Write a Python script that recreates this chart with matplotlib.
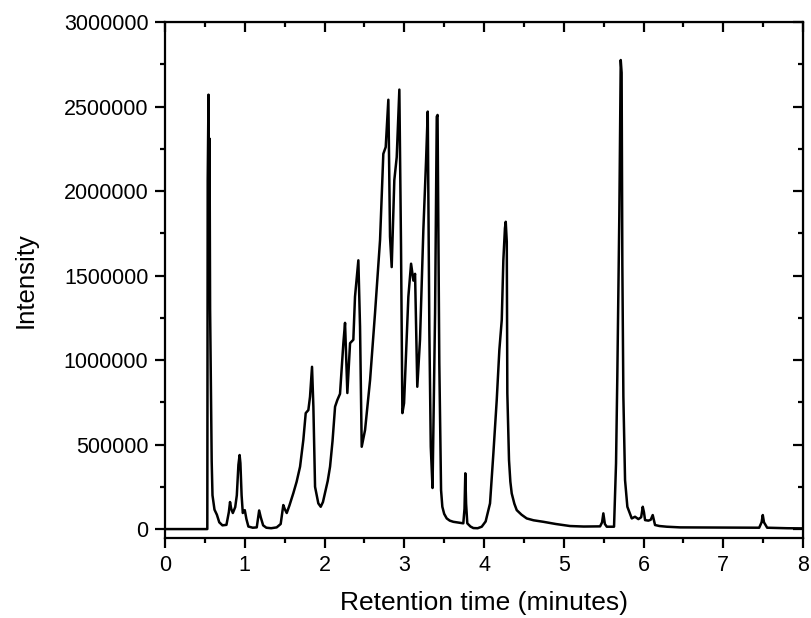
import matplotlib
matplotlib.use("Agg")
import matplotlib.pyplot as plt
from matplotlib.ticker import MultipleLocator
import numpy as np

plt.rcParams['font.family'] = ['Liberation Sans', 'DejaVu Sans']

# retention time (min) and intensity (thousands of counts)
rt = [0.0, 0.53, 0.535, 0.545, 0.552, 0.558, 0.565, 0.575, 0.585, 0.595,
      0.62, 0.65, 0.68, 0.72, 0.77, 0.80, 0.815, 0.83, 0.85, 0.88,
      0.90, 0.92, 0.935, 0.945, 0.96, 0.975, 1.0, 1.02, 1.045, 1.1,
      1.15, 1.18, 1.20, 1.23, 1.27, 1.33, 1.40, 1.45, 1.483, 1.50,
      1.526, 1.56, 1.609, 1.65, 1.693, 1.734, 1.764, 1.797, 1.818, 1.843,
      1.86, 1.881, 1.922, 1.952, 1.98, 2.006, 2.04, 2.069, 2.10, 2.132,
      2.16, 2.194, 2.236, 2.257, 2.286, 2.32, 2.361, 2.382, 2.424, 2.445,
      2.466, 2.508, 2.571, 2.633, 2.696, 2.737, 2.767, 2.80, 2.821, 2.842,
      2.875, 2.905, 2.938, 2.959, 2.976, 2.997, 3.051, 3.085, 3.114, 3.135,
      3.163, 3.197, 3.239, 3.273, 3.294, 3.314, 3.332, 3.354, 3.386, 3.407,
      3.417, 3.439, 3.461, 3.477, 3.50, 3.532, 3.57, 3.615, 3.68, 3.74,
      3.755, 3.765, 3.775, 3.79, 3.83, 3.866, 3.92, 3.971, 4.02, 4.075,
      4.117, 4.159, 4.192, 4.222, 4.242, 4.262, 4.272, 4.285, 4.292, 4.313,
      4.33, 4.347, 4.38, 4.41, 4.47, 4.535, 4.62, 4.744, 4.9, 5.078,
      5.25, 5.455, 5.48, 5.496, 5.515, 5.539, 5.63, 5.655, 5.671, 5.696,
      5.714, 5.725, 5.734, 5.747, 5.768, 5.797, 5.852, 5.893, 5.935, 5.97,
      5.99, 6.005, 6.019, 6.06, 6.09, 6.115, 6.144, 6.2, 6.29, 6.458,
      7.0, 7.45, 7.48, 7.495, 7.51, 7.55, 7.8, 8.0]
intensity_k = [0, 0, 2060, 2570, 1950, 2310, 1300, 860, 400, 200,
               115, 85, 40, 22, 25, 100, 160, 120, 95, 130,
               200, 380, 438, 390, 200, 95, 112, 60, 15, 8,
               10, 110, 70, 22, 8, 5, 10, 30, 142, 120,
               95, 140, 213, 280, 369, 527, 686, 704, 783, 960,
               724, 250, 152, 132, 160, 213, 285, 369, 520, 724,
               763, 800, 1100, 1220, 805, 1100, 1120, 1375, 1590, 1197,
               487, 586, 882, 1278, 1710, 2220, 2260, 2540, 1730, 1550,
               2065, 2200, 2600, 1670, 686, 745, 1375, 1570, 1470, 1510,
               842, 1120, 1770, 2180, 2470, 1180, 487, 243, 1278, 2440,
               2450, 982, 231, 132, 90, 63, 50, 43, 38, 34,
               120, 330, 150, 34, 15, 6, 5, 14, 45, 152,
               448, 763, 1060, 1237, 1590, 1780, 1818, 1700, 803, 408,
               280, 211, 150, 112, 85, 63, 52, 43, 30, 18,
               15, 16, 40, 93, 30, 14, 14, 389, 901, 1850,
               2775, 2700, 1570, 783, 290, 132, 63, 73, 59, 70,
               132, 100, 53, 50, 55, 83, 24, 18, 14, 10,
               9, 8, 40, 83, 40, 8, 5, 4]

x_ticks = [0, 1, 2, 3, 4, 5, 6, 7, 8]
y_ticks = [0, 500000, 1000000, 1500000, 2000000, 2500000, 3000000]

fig = plt.figure(figsize=(8.11, 6.18), dpi=100)
ax = fig.add_axes([0.2035, 0.1294, 0.7867, 0.835])

ax.plot(rt, np.array(intensity_k) * 1000, color='black', lw=1.8)

ax.set_xlim(0, 8)
ax.set_ylim(-53000, 3000000)
ax.set_xticks(x_ticks)
ax.set_yticks(y_ticks)
ax.set_yticklabels([str(v) for v in y_ticks])
ax.xaxis.set_minor_locator(MultipleLocator(0.5))
ax.yaxis.set_minor_locator(MultipleLocator(250000))

for s in ax.spines.values():
    s.set_linewidth(1.6)

ax.tick_params(which='both', direction='out', width=1.6, labelsize=15.5, pad=5)
ax.tick_params(which='major', length=7)
ax.tick_params(which='minor', length=3.5)
# inward ticks on the top and right frame, no labels
ax2 = ax.secondary_xaxis('top')
ax2.set_xticks(x_ticks)
ax2.xaxis.set_minor_locator(MultipleLocator(0.5))
ax2.tick_params(which='both', direction='in', width=1.6, labeltop=False)
ax2.tick_params(which='major', length=7)
ax2.tick_params(which='minor', length=3.5)
ax3 = ax.secondary_yaxis('right')
ax3.set_yticks(y_ticks)
ax3.yaxis.set_minor_locator(MultipleLocator(250000))
ax3.tick_params(which='both', direction='in', width=1.6, labelright=False)
ax3.tick_params(which='major', length=7)
ax3.tick_params(which='minor', length=3.5)

ax.set_xlabel('Retention time (minutes)', fontsize=19, labelpad=11)
ax.set_ylabel('Intensity', fontsize=18.5, labelpad=19)

fig.savefig('out.png', dpi=100)
